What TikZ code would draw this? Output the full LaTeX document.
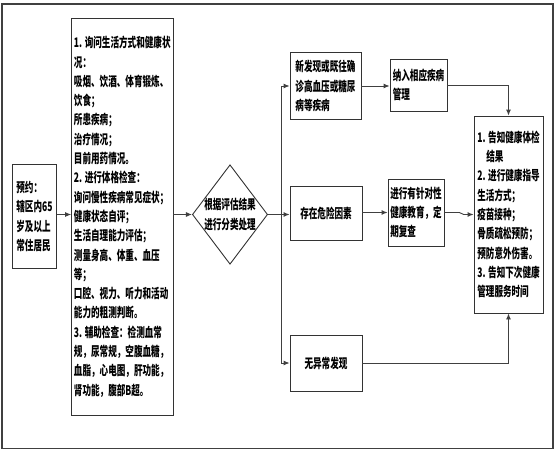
\documentclass[tikz,border=0pt]{standalone}
\usepackage{fontspec}
\newfontfamily\cjk[FakeStretch=0.65]{Noto Sans CJK SC}
\usetikzlibrary{arrows.meta,shapes.geometric}
\begin{document}
\begin{tikzpicture}[x=1pt,y=-1pt,
  txt/.style={align=left,inner sep=0pt,font=\cjk\bfseries\fontsize{13.2}{19.3}\selectfont},
  box/.style={txt,draw=black!80,line width=0.9pt},
  conn/.style={draw=black!75,line width=0.9pt},
  arr/.style={conn,-{Latex[length=6pt,width=5pt]}}]
\useasboundingbox (0,0) rectangle (556,452);
\draw[black!75,line width=1.3pt] (2,4) rectangle (553,448.5);

\node[box,minimum width=44.3pt,minimum height=104pt] (pre) at (34.5,216.5)
  {预约：\\辖区内65\\岁及以上\\常住居民};
\node[box,minimum width=101.4pt,minimum height=396.6pt] (big) at (122.3,216.7)
  {1. 询问生活方式和健康状\\况：\\吸烟、饮酒、体育锻炼、\\饮食；\\所患疾病；\\治疗情况；\\目前用药情况。\\2. 进行体格检查：\\询问慢性疾病常见症状；\\健康状态自评；\\生活自理能力评估；\\测量身高、体重、血压\\等；\\口腔、视力、听力和活动\\能力的粗测判断。\\3. 辅助检查：检测血常\\规，尿常规，空腹血糖，\\血脂，心电图，肝功能，\\肾功能，腹部B超。};
\node[diamond,draw=black!80,line width=0.9pt,inner sep=0pt,minimum width=75.2pt,minimum height=99.5pt] (dia) at (230,214.5) {};
\node[txt] (diat) at (dia.center) {根据评估结果\\进行分类处理};

\node[box,minimum width=71pt,minimum height=67pt] (n1) at (325.5,86) {新发现或既往确\\诊高血压或糖尿\\病等疾病};
\node[box,minimum width=57pt,minimum height=52pt] (n2) at (418.5,85) {纳入相应疾病\\管理};
\node[box,minimum width=72pt,minimum height=54.4pt,align=center] (m1) at (326,213.5) {存在危险因素};
\node[box,minimum width=56pt,minimum height=67pt] (m2) at (416,212.5) {进行有针对性\\健康教育，定\\期复查};
\node[box,minimum width=72pt,minimum height=56pt,align=center] (b1) at (326,363) {无异常发现};
\node[box,minimum width=69pt,minimum height=197pt] (r) at (508.5,214.5)
  {1. 告知健康体检\\\hspace*{9pt}结果\\2. 进行健康指导\\生活方式；\\疫苗接种；\\骨质疏松预防；\\预防意外伤害。\\3. 告知下次健康\\管理服务时间};

\coordinate (br) at (281,214);
\draw[arr] (pre.east |- dia.west) -- (big.west |- dia.west);
\draw[arr] (big.east |- dia.west) -- (dia.west);
\draw[arr] (dia.east) -- (m1.west |- dia.east);
\draw[conn] (br |- n1.west) -- (br |- b1.west);
\draw[arr] (br |- n1.west) -- (n1.west);
\draw[arr] (br |- b1.west) -- (b1.west);
\draw[arr] (n1.east) -- (n2.west |- n1.east);
\draw[arr] (m1.east |- m2.west) -- (m2.west);
\draw[arr] (n2.east) -| (r.north);
\draw[arr] (b1.east) -| (r.south);
\draw[arr] (m2.east) -- ++(15,0) -- ([xshift=-10pt]r.west) -- (r.west);
\end{tikzpicture}
\end{document}
